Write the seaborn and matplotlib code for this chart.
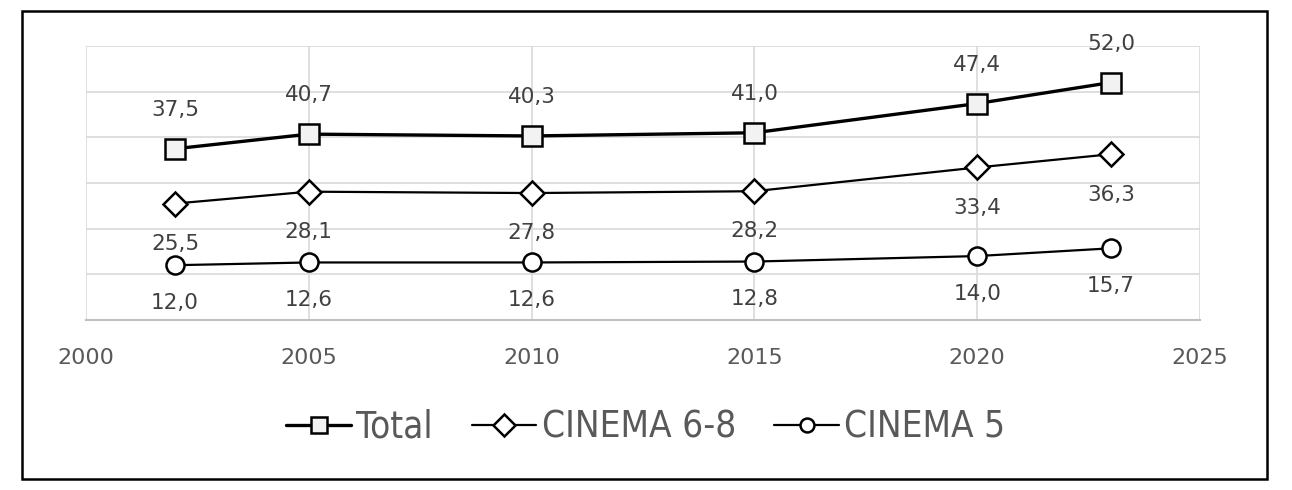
import numpy as np
import pandas as pd
import matplotlib
matplotlib.use("Agg")
import matplotlib.pyplot as plt
from matplotlib import font_manager
from matplotlib.patches import Rectangle
from matplotlib.lines import Line2D
import seaborn as sns

# data
years = [2002, 2005, 2010, 2015, 2020, 2023]
total = [37.5, 40.7, 40.3, 41.0, 47.4, 52.0]
cinema_68 = [25.5, 28.1, 27.8, 28.2, 33.4, 36.3]
cinema_5 = [12.0, 12.6, 12.6, 12.8, 14.0, 15.7]
series_names = ["Total", "CINEMA 6-8", "CINEMA 5"]
x_ticks = [2000, 2005, 2010, 2015, 2020, 2025]

sns.set_style("white")
plt.rcParams['font.family'] = ['DejaVu Sans']

# narrow font for the legend if there is one
legend_family = "DejaVu Sans"
legend_stretch = "condensed"
try:
    font_manager.findfont("Liberation Sans Narrow", fallback_to_default=False)
    legend_family = "Liberation Sans Narrow"
    legend_stretch = "normal"
except ValueError:
    pass

fig = plt.figure(figsize=(12.92, 4.9), dpi=100)
ax = fig.add_axes([86 / 1292, 1 - 320 / 490, (1200 - 86) / 1292, (320 - 46) / 490])

styles = [
    dict(marker="s", lw=2.4, ms=14, mfc="#f2f2f2", mew=1.8, offset=28, lms=11),
    dict(marker="D", lw=1.6, ms=12, mfc="white", mew=1.8, offset=-29, lms=11),
    dict(marker="o", lw=1.6, ms=13, mfc="white", mew=1.8, offset=-27, lms=10),
]

handles = []
for name, vals, st in zip(series_names, [total, cinema_68, cinema_5], styles):
    df = pd.DataFrame({"year": years, "value": vals})
    sns.lineplot(data=df, x="year", y="value", ax=ax, color="black", lw=st["lw"],
                 marker=st["marker"], markersize=st["ms"], markerfacecolor=st["mfc"],
                 markeredgecolor="black", markeredgewidth=st["mew"], zorder=3)
    for xv, yv in zip(years, vals):
        ax.annotate(f"{yv:.1f}".replace(".", ","), (xv, yv), xytext=(0, st["offset"]),
                    textcoords="offset points", ha="center", va="center",
                    fontsize=15.5, color="#404040")
    handles.append(Line2D([], [], color="black", lw=st["lw"], marker=st["marker"],
                          markersize=st["lms"], markerfacecolor=st["mfc"],
                          markeredgecolor="black", markeredgewidth=st["mew"]))

ax.set_xlim(2000, 2025)
ax.set_ylim(0, 60)
ax.set_xticks(x_ticks)
ax.set_yticks(np.arange(0, 61, 10))
ax.set_yticklabels([])
ax.tick_params(axis="x", length=0, pad=20, labelsize=16, labelcolor="#595959")
ax.tick_params(axis="y", length=0)
ax.grid(True, color="#d9d9d9", lw=1.2, zorder=0)
ax.set_axisbelow(True)
for side in ["top", "right", "left"]:
    ax.spines[side].set_visible(False)
ax.spines["bottom"].set_color("#bfbfbf")
ax.spines["bottom"].set_linewidth(1.5)
ax.set_xlabel("")
ax.set_ylabel("")

fig.legend(handles, series_names, loc="center", bbox_to_anchor=(0.5, 1 - 427 / 490),
           ncol=3, frameon=False, handlelength=1.75, handletextpad=0.15,
           columnspacing=1.05, labelcolor="#595959",
           prop={"family": legend_family, "stretch": legend_stretch, "size": 26.5})

fig.patches.append(Rectangle((22 / 1292, 1 - 479 / 490), (1267 - 22) / 1292, (479 - 11) / 490,
                             transform=fig.transFigure, fill=False, edgecolor="black", lw=1.8))

fig.savefig("out.png", dpi=100)
